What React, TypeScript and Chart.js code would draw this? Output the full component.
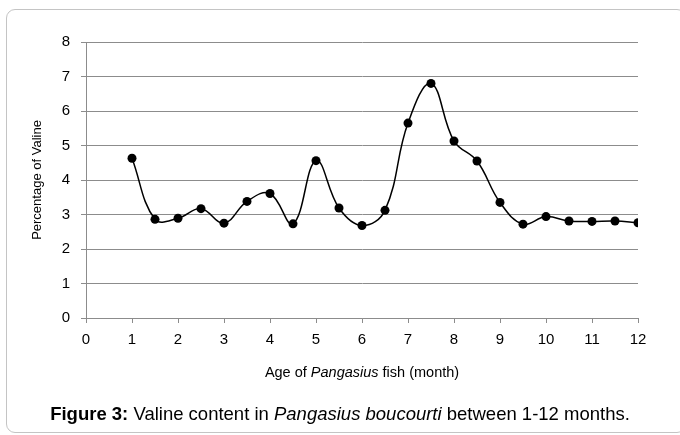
import React, { useEffect, useRef } from "react";
import { Chart, registerables } from "chart.js";

Chart.register(...registerables);

const months = [1, 1.5, 2, 2.5, 3, 3.5, 4, 4.5, 5, 5.5, 6, 6.5, 7, 7.5, 8, 8.5, 9, 9.5, 10, 10.5, 11, 11.5, 12];
const valine = [4.63, 2.86, 2.89, 3.17, 2.75, 3.38, 3.61, 2.73, 4.56, 3.19, 2.68, 3.12, 5.65, 6.8, 5.13, 4.55, 3.35, 2.72, 2.94, 2.81, 2.8, 2.81, 2.76];
const yTitle = "Percentage of Valine";
const xTitleParts = [
  { text: "Age of ", italic: false },
  { text: "Pangasius", italic: true },
  { text: " fish (month)", italic: false },
];

const FONT = "'Liberation Sans', Arial, sans-serif";

export default function App() {
  const ref = useRef<HTMLCanvasElement | null>(null);
  useEffect(() => {
    const canvas = ref.current!;
    const titles = {
      id: "axisTitles",
      afterDraw(chart: any) {
        const ctx = chart.ctx;
        const area = chart.chartArea;
        ctx.save();
        ctx.fillStyle = "#000";
        ctx.textBaseline = "middle";
        let total = 0;
        const fonts = xTitleParts.map((p) => (p.italic ? "italic " : "") + "14.5px " + FONT);
        xTitleParts.forEach((p, i) => {
          ctx.font = fonts[i];
          total += ctx.measureText(p.text).width;
        });
        let x = (area.left + area.right) / 2 - total / 2;
        ctx.textAlign = "left";
        xTitleParts.forEach((p, i) => {
          ctx.font = fonts[i];
          ctx.fillText(p.text, x, 373);
          x += ctx.measureText(p.text).width;
        });
        ctx.translate(37, (area.top + area.bottom) / 2);
        ctx.rotate(-Math.PI / 2);
        ctx.textAlign = "center";
        ctx.font = "13px " + FONT;
        ctx.fillText(yTitle, 0, 0);
        ctx.restore();
      },
    };
    const chart = new Chart(canvas, {
      type: "line",
      data: {
        datasets: [
          {
            data: months.map((m, i) => ({ x: m, y: valine[i] })),
            borderColor: "#000",
            backgroundColor: "#000",
            borderWidth: 1.5,
            pointRadius: 4.5,
            pointBackgroundColor: "#000",
            pointBorderWidth: 0,
            tension: 0.4,
            fill: false,
          },
        ],
      },
      options: {
        responsive: false,
        animation: false,
        layout: { padding: { left: 0, top: 42, right: 42, bottom: 0 } },
        plugins: { legend: { display: false }, tooltip: { enabled: false } },
        scales: {
          x: {
            type: "linear",
            min: 0,
            max: 12,
            afterFit: (s: any) => {
              s.height = 117;
              s.paddingLeft = 0;
              s.paddingRight = 0;
            },
            ticks: { stepSize: 1, color: "#000", font: { family: FONT, size: 15 }, padding: 8, maxRotation: 0 },
            grid: { display: true, drawOnChartArea: false, drawTicks: true, tickLength: 5, color: "#8c8c8c", lineWidth: 1 },
            border: { color: "#8c8c8c", width: 1 },
          },
          y: {
            min: 0,
            max: 8,
            afterFit: (s: any) => {
              s.width = 86;
              s.paddingTop = 0;
              s.paddingBottom = 0;
            },
            ticks: { stepSize: 1, color: "#000", font: { family: FONT, size: 15 }, padding: 11 },
            grid: { color: "#8c8c8c", lineWidth: 1, tickLength: 5 },
            border: { color: "#8c8c8c", width: 1 },
          },
        },
      },
      plugins: [titles],
    });
    return () => chart.destroy();
  }, []);

  return (
    <div style={{ position: "absolute", left: 0, top: 0, width: 680, height: 435, background: "#fff", overflow: "hidden" }}>
      <div
        style={{
          position: "absolute",
          left: 6,
          top: 9,
          width: 680,
          height: 424,
          border: "1px solid #c4c4c4",
          borderRadius: 9,
          boxSizing: "border-box",
        }}
      />
      <canvas ref={ref} width={680} height={435} style={{ position: "absolute", left: 0, top: 0 }} />
      <div
        style={{
          position: "absolute",
          left: 0,
          top: 402,
          width: 680,
          textAlign: "center",
          fontFamily: FONT,
          fontSize: 18.5,
          color: "#000",
          lineHeight: "24px",
          whiteSpace: "nowrap",
        }}
      >
        <b>Figure 3:</b> Valine content in <i>Pangasius boucourti</i> between 1-12 months.
      </div>
    </div>
  );
}
